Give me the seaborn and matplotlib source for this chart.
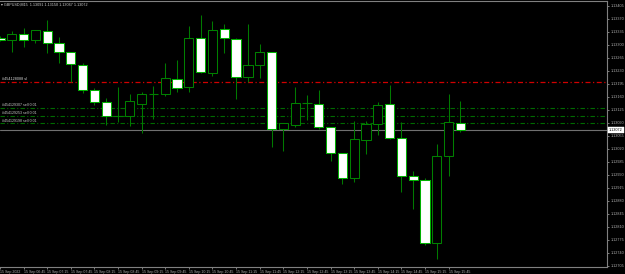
import numpy as np
import pandas as pd
import seaborn as sns
import matplotlib
matplotlib.use("Agg")
import matplotlib.pyplot as plt
import matplotlib.transforms as mtransforms

# ---------------- data ----------------
opens = [1.13320, 1.13313, 1.13330, 1.13314, 1.13338, 1.13305, 1.13280, 1.13247, 1.13178, 1.13146,
         1.13110, 1.13109, 1.13140, 1.13169, 1.13169, 1.13208, 1.13186, 1.13318, 1.13224, 1.13342,
         1.13317, 1.13213, 1.13245, 1.13280, 1.13073, 1.13085, 1.13143, 1.13141, 1.13078, 1.13009,
         1.12941, 1.13043, 1.13087, 1.13140, 1.13049, 1.12948, 1.12937, 1.12768, 1.13000, 1.13091]
highs = [1.13324, 1.13338, 1.13346, 1.13341, 1.13367, 1.13322, 1.13281, 1.13251, 1.13183, 1.13157,
         1.13186, 1.13167, 1.13173, 1.13189, 1.13251, 1.13260, 1.13351, 1.13381, 1.13365, 1.13356,
         1.13318, 1.13357, 1.13303, 1.13281, 1.13090, 1.13188, 1.13165, 1.13179, 1.13079, 1.13010,
         1.13095, 1.13095, 1.13147, 1.13192, 1.13093, 1.12961, 1.12943, 1.13033, 1.13168, 1.13150]
lows = [1.13311, 1.13280, 1.13294, 1.13306, 1.13278, 1.13252, 1.13201, 1.13170, 1.13139, 1.13084,
        1.13092, 1.13082, 1.13062, 1.13100, 1.13164, 1.13173, 1.13174, 1.13225, 1.13216, 1.13279,
        1.13154, 1.13200, 1.13212, 1.13026, 1.13015, 1.13079, 1.13098, 1.13073, 1.12988, 1.12926,
        1.12932, 1.13006, 1.13058, 1.13048, 1.12905, 1.12858, 1.12761, 1.12724, 1.12948, 1.13067]
closes = [1.13313, 1.13329, 1.13314, 1.13340, 1.13305, 1.13280, 1.13248, 1.13179, 1.13146, 1.13110,
          1.13110, 1.13148, 1.13169, 1.13169, 1.13210, 1.13183, 1.13318, 1.13226, 1.13340, 1.13318,
          1.13215, 1.13245, 1.13280, 1.13073, 1.13089, 1.13143, 1.13143, 1.13078, 1.13010, 1.12941,
          1.13048, 1.13087, 1.13138, 1.13049, 1.12948, 1.12937, 1.12768, 1.13000, 1.13092, 1.13072]

time_labels = ["15 Sep 2022", "15 Sep 06:45", "15 Sep 07:15", "15 Sep 07:45", "15 Sep 08:15",
               "15 Sep 08:45", "15 Sep 09:15", "15 Sep 09:45", "15 Sep 10:15", "15 Sep 10:45",
               "15 Sep 11:15", "15 Sep 11:45", "15 Sep 12:15", "15 Sep 12:45", "15 Sep 13:15",
               "15 Sep 13:45", "15 Sep 14:15", "15 Sep 14:45", "15 Sep 15:15", "15 Sep 15:45"]

price_ticks = [1.13405, 1.13370, 1.13335, 1.13300, 1.13265, 1.13230, 1.13195, 1.13160, 1.13125,
               1.13090, 1.13055, 1.13020, 1.12985, 1.12950, 1.12915, 1.12880, 1.12845, 1.12810,
               1.12775, 1.12740, 1.12705]

stop_level = 1.13200
stop_label = "#454128088 sl"
order_levels = [1.13130, 1.13109, 1.13089]
order_labels = ["#454129307 sell 0.01", "#454129253 sell 0.01", "#454129198 sell 0.01"]
current_price = 1.13072
title_text = "\u25be GBPUSD,M15  1.13091 1.13150 1.13067 1.13072"

df = pd.DataFrame({"open": opens, "high": highs, "low": lows, "close": closes})
df["idx"] = np.arange(len(df))

# ---------------- style ----------------
sns.set_theme(style="dark", rc={
    "figure.facecolor": "black",
    "axes.facecolor": "black",
    "axes.edgecolor": "#808080",
    "axes.grid": False,
    "xtick.color": "#a0a0a0",
    "ytick.color": "#a0a0a0",
})
plt.rcParams["font.family"] = ["Liberation Sans", "DejaVu Sans"]

fig = plt.figure(figsize=(6.25, 2.74), dpi=100)
ax = fig.add_axes([0.0, 7 / 274, 607 / 625, (266.5) / 274])

WICK = "#007a00"
EDGE_BEAR = "#00b000"
EDGE_BULL = "#008000"
BODY_W = 0.78

# wicks
ax.vlines(df["idx"], df["low"], df["high"], color=WICK, linewidth=0.75, zorder=2)

# bodies
for _, r in df.iterrows():
    lo = min(r["open"], r["close"])
    hi = max(r["open"], r["close"])
    if hi - lo < 1e-7:
        ax.hlines(lo, r["idx"] - BODY_W / 2, r["idx"] + BODY_W / 2, color=EDGE_BULL,
                  linewidth=0.8, zorder=3)
        continue
    bear = r["close"] < r["open"]
    face = "white" if bear else "black"
    ax.bar(r["idx"], hi - lo, bottom=lo, width=BODY_W, color=face,
           edgecolor=EDGE_BEAR if bear else EDGE_BULL, linewidth=0.75, zorder=3)

# order lines
ax.axhline(stop_level, color="#d00000", linewidth=0.9, linestyle=(0, (4, 2, 1, 2)), zorder=1)
for lv in order_levels:
    ax.axhline(lv, color="#006a00", linewidth=0.8, linestyle=(0, (4, 2, 1, 2)), zorder=1)
ax.axhline(current_price, color="#707070", linewidth=0.8, zorder=1)

blend = mtransforms.blended_transform_factory(ax.transAxes, ax.transData)
ax.text(0.003, stop_level + 0.00002, stop_label, transform=blend, fontsize=2.7,
        color="#d8d8d8", va="bottom", ha="left")
for lv, lab in zip(order_levels, order_labels):
    ax.text(0.003, lv + 0.00002, lab, transform=blend, fontsize=2.6,
            color="#c8c8c8", va="bottom", ha="left")

# title
ax.text(0.002, 0.992, title_text, transform=ax.transAxes, fontsize=2.7,
        color="#d0d0d0", va="top", ha="left")

# axes limits
ax.set_xlim(0.07, 51.42)
ax.set_ylim(1.127023, 1.134198)

# y axis on the right
ax.yaxis.tick_right()
ax.set_yticks(price_ticks)
ax.set_yticklabels([f"{p:.5f}" for p in price_ticks])
ax.tick_params(axis="y", which="both", right=True, left=False, length=1.5, width=0.5,
               pad=0.8, labelsize=2.7, colors="#b0b0b0")

# x axis
ax.set_xticks(np.arange(0, 40, 2))
ax.set_xticklabels(time_labels)
ax.tick_params(axis="x", bottom=True, length=1.5, width=0.5, pad=0.6,
               labelsize=2.6, colors="#b0b0b0")
for t in ax.get_xticklabels():
    t.set_horizontalalignment("left")

# current price tag
ax.annotate(f"{current_price:.5f}", xy=(1.0, current_price), xycoords=blend,
            xytext=(1.5, 0), textcoords="offset points", fontsize=2.7, color="black",
            va="center", ha="left",
            bbox=dict(boxstyle="square,pad=0.25", fc="white", ec="white", lw=0.3),
            annotation_clip=False)

for s in ["top", "right", "bottom"]:
    ax.spines[s].set_color("#808080")
    ax.spines[s].set_linewidth(0.8)
ax.spines["left"].set_visible(False)

fig.savefig("out.png", dpi=100, facecolor="black")
